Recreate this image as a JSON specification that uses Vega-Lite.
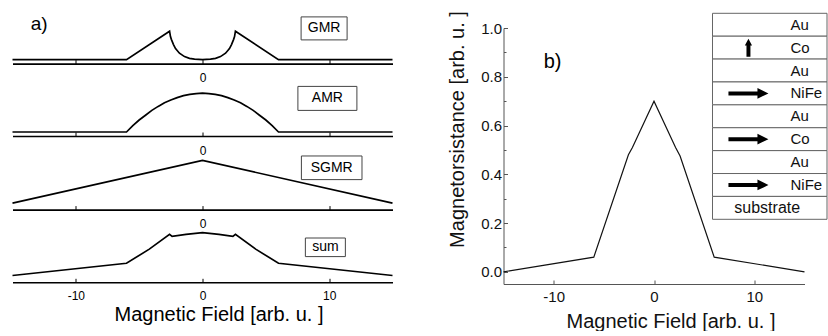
{
  "$schema": "https://vega.github.io/schema/vega-lite/v6.json",
  "padding": {"left": 8.5, "top": 10, "right": 0, "bottom": 0},
  "config": {
    "font": "Liberation Sans",
    "view": {"stroke": null},
    "axis": {"grid": false, "labelFont": "Liberation Sans", "titleFont": "Liberation Sans", "titleFontWeight": "normal"}
  },
  "datasets": {
    "left": [
      {"curve": "GMR", "field": -15, "value": 0}, {"curve": "GMR", "field": -6, "value": 0},
      {"curve": "GMR", "field": -2.6, "value": 0.71}, {"curve": "GMR", "field": -2.53, "value": 0.575},
      {"curve": "GMR", "field": -2.45, "value": 0.5}, {"curve": "GMR", "field": -2.29, "value": 0.375},
      {"curve": "GMR", "field": -2.13, "value": 0.275}, {"curve": "GMR", "field": -1.82, "value": 0.16},
      {"curve": "GMR", "field": -1.42, "value": 0.075}, {"curve": "GMR", "field": -1.03, "value": 0.03},
      {"curve": "GMR", "field": -0.63, "value": 0.01}, {"curve": "GMR", "field": 0, "value": 0},
      {"curve": "GMR", "field": 0.63, "value": 0.01}, {"curve": "GMR", "field": 1.03, "value": 0.03},
      {"curve": "GMR", "field": 1.42, "value": 0.075}, {"curve": "GMR", "field": 1.82, "value": 0.16},
      {"curve": "GMR", "field": 2.13, "value": 0.275}, {"curve": "GMR", "field": 2.29, "value": 0.375},
      {"curve": "GMR", "field": 2.45, "value": 0.5}, {"curve": "GMR", "field": 2.53, "value": 0.575},
      {"curve": "GMR", "field": 2.6, "value": 0.71}, {"curve": "GMR", "field": 6, "value": 0},
      {"curve": "GMR", "field": 15, "value": 0},
      {"curve": "AMR", "field": -15, "value": 0}, {"curve": "AMR", "field": -6, "value": 0},
      {"curve": "AMR", "field": -5.5, "value": 0.16}, {"curve": "AMR", "field": -5, "value": 0.3},
      {"curve": "AMR", "field": -4.5, "value": 0.42}, {"curve": "AMR", "field": -4, "value": 0.54},
      {"curve": "AMR", "field": -3.5, "value": 0.64}, {"curve": "AMR", "field": -3, "value": 0.73},
      {"curve": "AMR", "field": -2.5, "value": 0.8}, {"curve": "AMR", "field": -2, "value": 0.86},
      {"curve": "AMR", "field": -1.5, "value": 0.91}, {"curve": "AMR", "field": -1, "value": 0.94},
      {"curve": "AMR", "field": -0.5, "value": 0.96}, {"curve": "AMR", "field": 0, "value": 0.97},
      {"curve": "AMR", "field": 0.5, "value": 0.96}, {"curve": "AMR", "field": 1, "value": 0.94},
      {"curve": "AMR", "field": 1.5, "value": 0.91}, {"curve": "AMR", "field": 2, "value": 0.86},
      {"curve": "AMR", "field": 2.5, "value": 0.8}, {"curve": "AMR", "field": 3, "value": 0.73},
      {"curve": "AMR", "field": 3.5, "value": 0.64}, {"curve": "AMR", "field": 4, "value": 0.54},
      {"curve": "AMR", "field": 4.5, "value": 0.42}, {"curve": "AMR", "field": 5, "value": 0.3},
      {"curve": "AMR", "field": 5.5, "value": 0.16}, {"curve": "AMR", "field": 6, "value": 0},
      {"curve": "AMR", "field": 15, "value": 0},
      {"curve": "SGMR", "field": -15, "value": 0.06}, {"curve": "SGMR", "field": 0, "value": 1.13},
      {"curve": "SGMR", "field": 15, "value": 0.06},
      {"curve": "sum", "field": -15, "value": 0.07}, {"curve": "sum", "field": -6, "value": 0.375},
      {"curve": "sum", "field": -4.2, "value": 0.73}, {"curve": "sum", "field": -2.6, "value": 1.1},
      {"curve": "sum", "field": -2.4, "value": 1.05}, {"curve": "sum", "field": -1.3, "value": 1.1},
      {"curve": "sum", "field": 0, "value": 1.14}, {"curve": "sum", "field": 1.3, "value": 1.1},
      {"curve": "sum", "field": 2.4, "value": 1.05}, {"curve": "sum", "field": 2.6, "value": 1.1},
      {"curve": "sum", "field": 4.2, "value": 0.73}, {"curve": "sum", "field": 6, "value": 0.375},
      {"curve": "sum", "field": 15, "value": 0.07}
    ],
    "right": [
      {"field": -15, "mr": 0}, {"field": -6, "mr": 0.06}, {"field": -2.55, "mr": 0.48},
      {"field": -2.15, "mr": 0.51}, {"field": 0, "mr": 0.7}, {"field": 2.15, "mr": 0.51},
      {"field": 2.6, "mr": 0.475}, {"field": 6, "mr": 0.06}, {"field": 15, "mr": 0}
    ],
    "stack": [
      {"row": 1, "layer": "Au", "arrow": "none"},
      {"row": 2, "layer": "Co", "arrow": "up"},
      {"row": 3, "layer": "Au", "arrow": "none"},
      {"row": 4, "layer": "NiFe", "arrow": "right"},
      {"row": 5, "layer": "Au", "arrow": "none"},
      {"row": 6, "layer": "Co", "arrow": "right"},
      {"row": 7, "layer": "Au", "arrow": "none"},
      {"row": 8, "layer": "NiFe", "arrow": "right"},
      {"row": 9, "layer": "substrate", "arrow": "none"}
    ]
  },
  "hconcat": [
    {
      "width": 380, "height": 254.3,
      "layer": [
        {
          "data": {"name": "left"},
          "transform": [{"filter": "datum.curve == 'GMR'"}],
          "mark": {"type": "line", "color": "black", "strokeWidth": 1.7},
          "encoding": {
            "x": {"field": "field", "type": "quantitative", "scale": {"domain": [-15, 15], "nice": false, "zero": false},
              "axis": {"orient": "bottom", "offset": -218.7, "values": [-10, 0, 10], "tickSize": -4, "tickColor": "black", "domainColor": "black", "domainWidth": 1.6, "labelFontSize": 12, "labelColor": "black", "labelPadding": 13, "labelExpr": "datum.value == 0 ? '0' : ''", "title": null}},
            "y": {"field": "value", "type": "quantitative", "scale": {"domain": [-5.5675, 0.79], "nice": false, "zero": false}, "axis": null}
          }
        },
        {
          "data": {"values": [{"t": "GMR"}]},
          "mark": {"type": "point", "shape": "M-1,-0.5L1,-0.5L1,0.5L-1,0.5Z", "size": 2116, "filled": false, "stroke": "#444", "strokeWidth": 1, "opacity": 1},
          "encoding": {
            "x": {"datum": 9.6, "scale": {"domain": [-15, 15], "nice": false, "zero": false}, "axis": null},
            "y": {"datum": 0.78, "scale": {"domain": [-5.5675, 0.79], "nice": false, "zero": false}, "axis": null}
          }
        },
        {
          "data": {"values": [{"t": "GMR"}]},
          "mark": {"type": "text", "fontSize": 14, "color": "black", "baseline": "middle"},
          "encoding": {
            "x": {"datum": 9.6, "scale": {"domain": [-15, 15], "nice": false, "zero": false}, "axis": null},
            "y": {"datum": 0.78, "scale": {"domain": [-5.5675, 0.79], "nice": false, "zero": false}, "axis": null},
            "text": {"field": "t"}
          }
        },
        {
          "data": {"values": [{"t": "a)"}]},
          "mark": {"type": "text", "fontSize": 19, "color": "black", "baseline": "middle"},
          "encoding": {
            "x": {"datum": -12.9, "scale": {"domain": [-15, 15], "nice": false, "zero": false}, "axis": null},
            "y": {"datum": 0.88, "scale": {"domain": [-5.5675, 0.79], "nice": false, "zero": false}, "axis": null},
            "text": {"field": "t"}
          }
        },
        {
          "data": {"name": "left"},
          "transform": [{"filter": "datum.curve == 'AMR'"}],
          "mark": {"type": "line", "color": "black", "strokeWidth": 1.7},
          "encoding": {
            "x": {"field": "field", "type": "quantitative", "scale": {"domain": [-15, 15], "nice": false, "zero": false},
              "axis": {"orient": "bottom", "offset": -146.3, "values": [-10, 0, 10], "tickSize": -4, "tickColor": "black", "domainColor": "black", "domainWidth": 1.6, "labelFontSize": 12, "labelColor": "black", "labelPadding": 13, "labelExpr": "datum.value == 0 ? '0' : ''", "title": null}},
            "y": {"field": "value", "type": "quantitative", "scale": {"domain": [-3.7575, 2.6], "nice": false, "zero": false}, "axis": null}
          }
        },
        {
          "data": {"values": [{"t": "AMR"}]},
          "mark": {"type": "point", "shape": "M-1,-0.407L1,-0.407L1,0.407L-1,0.407Z", "size": 3481, "filled": false, "stroke": "#444", "strokeWidth": 1, "opacity": 1},
          "encoding": {
            "x": {"datum": 9.86, "scale": {"domain": [-15, 15], "nice": false, "zero": false}, "axis": null},
            "y": {"datum": 0.84, "scale": {"domain": [-3.7575, 2.6], "nice": false, "zero": false}, "axis": null}
          }
        },
        {
          "data": {"values": [{"t": "AMR"}]},
          "mark": {"type": "text", "fontSize": 14, "color": "black", "baseline": "middle"},
          "encoding": {
            "x": {"datum": 9.86, "scale": {"domain": [-15, 15], "nice": false, "zero": false}, "axis": null},
            "y": {"datum": 0.84, "scale": {"domain": [-3.7575, 2.6], "nice": false, "zero": false}, "axis": null},
            "text": {"field": "t"}
          }
        },
        {
          "data": {"name": "left"},
          "transform": [{"filter": "datum.curve == 'SGMR'"}],
          "mark": {"type": "line", "color": "black", "strokeWidth": 1.7},
          "encoding": {
            "x": {"field": "field", "type": "quantitative", "scale": {"domain": [-15, 15], "nice": false, "zero": false},
              "axis": {"orient": "bottom", "offset": -72.7, "values": [-10, 0, 10], "tickSize": -4, "tickColor": "black", "domainColor": "black", "domainWidth": 1.6, "labelFontSize": 12, "labelColor": "black", "labelPadding": 13, "labelExpr": "datum.value == 0 ? '0' : ''", "title": null}},
            "y": {"field": "value", "type": "quantitative", "scale": {"domain": [-1.9175, 4.44], "nice": false, "zero": false}, "axis": null}
          }
        },
        {
          "data": {"values": [{"t": "SGMR"}]},
          "mark": {"type": "point", "shape": "M-1,-0.39L1,-0.39L1,0.39L-1,0.39Z", "size": 3672, "filled": false, "stroke": "#444", "strokeWidth": 1, "opacity": 1},
          "encoding": {
            "x": {"datum": 10.2, "scale": {"domain": [-15, 15], "nice": false, "zero": false}, "axis": null},
            "y": {"datum": 0.945, "scale": {"domain": [-1.9175, 4.44], "nice": false, "zero": false}, "axis": null}
          }
        },
        {
          "data": {"values": [{"t": "SGMR"}]},
          "mark": {"type": "text", "fontSize": 14, "color": "black", "baseline": "middle"},
          "encoding": {
            "x": {"datum": 10.2, "scale": {"domain": [-15, 15], "nice": false, "zero": false}, "axis": null},
            "y": {"datum": 0.945, "scale": {"domain": [-1.9175, 4.44], "nice": false, "zero": false}, "axis": null},
            "text": {"field": "t"}
          }
        },
        {
          "data": {"name": "left"},
          "transform": [{"filter": "datum.curve == 'sum'"}],
          "mark": {"type": "line", "color": "black", "strokeWidth": 1.7},
          "encoding": {
            "x": {"field": "field", "type": "quantitative", "scale": {"domain": [-15, 15], "nice": false, "zero": false},
              "axis": {"orient": "bottom", "offset": 0, "values": [-10, 0, 10], "tickSize": -4, "tickColor": "black", "domainColor": "black", "domainWidth": 1.6, "labelFontSize": 12, "labelColor": "black", "labelPadding": 12, "labelExpr": "replace(datum.label, '\u2212', '-')",
                "title": "Magnetic Field  [arb. u. ]", "titleFontSize": 20, "titleColor": "black", "titleX": 206, "titleY": 38, "titleBaseline": "alphabetic"}},
            "y": {"field": "value", "type": "quantitative", "scale": {"domain": [-0.1, 6.2575], "nice": false, "zero": false}, "axis": null}
          }
        },
        {
          "data": {"values": [{"t": "sum"}]},
          "mark": {"type": "point", "shape": "M-1,-0.465L1,-0.465L1,0.465L-1,0.465Z", "size": 1600, "filled": false, "stroke": "#444", "strokeWidth": 1, "opacity": 1},
          "encoding": {
            "x": {"datum": 9.7, "scale": {"domain": [-15, 15], "nice": false, "zero": false}, "axis": null},
            "y": {"datum": 0.775, "scale": {"domain": [-0.1, 6.2575], "nice": false, "zero": false}, "axis": null}
          }
        },
        {
          "data": {"values": [{"t": "sum"}]},
          "mark": {"type": "text", "fontSize": 14, "color": "black", "baseline": "middle"},
          "encoding": {
            "x": {"datum": 9.7, "scale": {"domain": [-15, 15], "nice": false, "zero": false}, "axis": null},
            "y": {"datum": 0.775, "scale": {"domain": [-0.1, 6.2575], "nice": false, "zero": false}, "axis": null},
            "text": {"field": "t"}
          }
        }
      ],
      "resolve": {"scale": {"x": "independent", "y": "independent"}, "axis": {"x": "independent", "y": "independent"}}
    },
    {
      "width": 301, "height": 256,
      "layer": [
        {
          "data": {"name": "right"},
          "mark": {"type": "line", "color": "#111", "strokeWidth": 1.2},
          "encoding": {
            "x": {"field": "field", "type": "quantitative", "scale": {"domain": [-15, 15], "nice": false, "zero": false},
              "axis": {"orient": "bottom", "values": [-10, 0, 10], "tickSize": -4, "tickColor": "#555", "domainColor": "#555", "labelFontSize": 15, "labelColor": "#111", "labelPadding": 9, "labelExpr": "replace(datum.label, '\u2212', '-')",
                "title": "Magnetic Field  [arb. u. ]", "titleFontSize": 20, "titleColor": "#111", "titleX": 167, "titleY": 43, "titleBaseline": "alphabetic"}},
            "y": {"field": "mr", "type": "quantitative", "scale": {"domain": [-0.05, 1.0], "nice": false, "zero": false},
              "axis": {"orient": "left", "values": [0, 0.2, 0.4, 0.6, 0.8, 1.0], "format": ".1f", "tickSize": -4, "tickColor": "#555", "domainColor": "#555", "labelFontSize": 15, "labelColor": "#111", "labelPadding": 6,
                "title": "Magnetorsistance [arb. u. ]", "titleFontSize": 20, "titleColor": "#111", "titleX": -40, "titleY": 101, "titleBaseline": "alphabetic"}}
          }
        },
        {
          "data": {"name": "right"},
          "mark": {"type": "line", "opacity": 0},
          "encoding": {
            "x": {"field": "field", "type": "quantitative", "scale": {"domain": [-15, 15], "nice": false, "zero": false}, "axis": null},
            "y": {"field": "mr", "type": "quantitative", "scale": {"domain": [-0.05, 1.0], "nice": false, "zero": false},
              "axis": {"orient": "left", "values": [0.1, 0.3, 0.5, 0.7, 0.9], "tickSize": -2.5, "tickColor": "#555", "labels": false, "domain": false, "title": null}}
          }
        },
        {
          "data": {"values": [{"t": "b)"}]},
          "mark": {"type": "text", "fontSize": 20, "color": "black", "align": "left", "baseline": "middle"},
          "encoding": {
            "x": {"datum": -11, "scale": {"domain": [-15, 15], "nice": false, "zero": false}, "axis": null},
            "y": {"datum": 0.86, "scale": {"domain": [-0.05, 1.0], "nice": false, "zero": false}, "axis": null},
            "text": {"field": "t"}
          }
        },
        {
          "data": {"name": "stack"},
          "mark": {"type": "rect", "fill": "white", "stroke": "#666", "strokeWidth": 1},
          "encoding": {
            "x": {"datum": 0, "scale": {"domain": [0, 1], "range": [209, 323.5], "nice": false, "zero": false}, "axis": null},
            "x2": {"datum": 1},
            "y": {"field": "row", "type": "ordinal", "scale": {"domain": [1, 2, 3, 4, 5, 6, 7, 8, 9], "range": [-14.7, 191.3], "paddingInner": 0, "paddingOuter": 0}, "axis": null}
          }
        },
        {
          "data": {"name": "stack"},
          "transform": [{"filter": "datum.layer != 'substrate'"}],
          "mark": {"type": "text", "fontSize": 15, "color": "#111", "align": "left", "baseline": "middle"},
          "encoding": {
            "x": {"datum": 0.681, "scale": {"domain": [0, 1], "range": [209, 323.5], "nice": false, "zero": false}, "axis": null},
            "y": {"field": "row", "type": "ordinal", "scale": {"domain": [1, 2, 3, 4, 5, 6, 7, 8, 9], "range": [-14.7, 191.3], "paddingInner": 0, "paddingOuter": 0}, "axis": null},
            "text": {"field": "layer"}
          }
        },
        {
          "data": {"name": "stack"},
          "transform": [{"filter": "datum.layer == 'substrate'"}],
          "mark": {"type": "text", "fontSize": 16, "color": "#111", "align": "center", "baseline": "middle"},
          "encoding": {
            "x": {"datum": 0.478, "scale": {"domain": [0, 1], "range": [209, 323.5], "nice": false, "zero": false}, "axis": null},
            "y": {"field": "row", "type": "ordinal", "scale": {"domain": [1, 2, 3, 4, 5, 6, 7, 8, 9], "range": [-14.7, 191.3], "paddingInner": 0, "paddingOuter": 0}, "axis": null},
            "text": {"field": "layer"}
          }
        },
        {
          "data": {"name": "stack"},
          "transform": [{"filter": "datum.arrow == 'right'"}],
          "mark": {"type": "point", "shape": "M1,0L0.45,-0.27L0.45,-0.1L-1,-0.1L-1,0.1L0.45,0.1L0.45,0.27Z", "size": 1600, "filled": true, "color": "black", "opacity": 1},
          "encoding": {
            "x": {"datum": 0.314, "scale": {"domain": [0, 1], "range": [209, 323.5], "nice": false, "zero": false}, "axis": null},
            "y": {"field": "row", "type": "ordinal", "scale": {"domain": [1, 2, 3, 4, 5, 6, 7, 8, 9], "range": [-14.7, 191.3], "paddingInner": 0, "paddingOuter": 0}, "axis": null}
          }
        },
        {
          "data": {"name": "stack"},
          "transform": [{"filter": "datum.arrow == 'up'"}],
          "mark": {"type": "point", "shape": "M0,-1L0.4,-0.25L0.22,-0.25L0.22,1L-0.22,1L-0.22,-0.25L-0.4,-0.25Z", "size": 324, "filled": true, "color": "black", "opacity": 1},
          "encoding": {
            "x": {"datum": 0.314, "scale": {"domain": [0, 1], "range": [209, 323.5], "nice": false, "zero": false}, "axis": null},
            "y": {"field": "row", "type": "ordinal", "scale": {"domain": [1, 2, 3, 4, 5, 6, 7, 8, 9], "range": [-14.7, 191.3], "paddingInner": 0, "paddingOuter": 0}, "axis": null}
          }
        }
      ],
      "resolve": {"scale": {"x": "independent", "y": "independent"}, "axis": {"x": "independent", "y": "independent"}}
    }
  ],
  "spacing": 111,
  "bounds": "flush"
}
